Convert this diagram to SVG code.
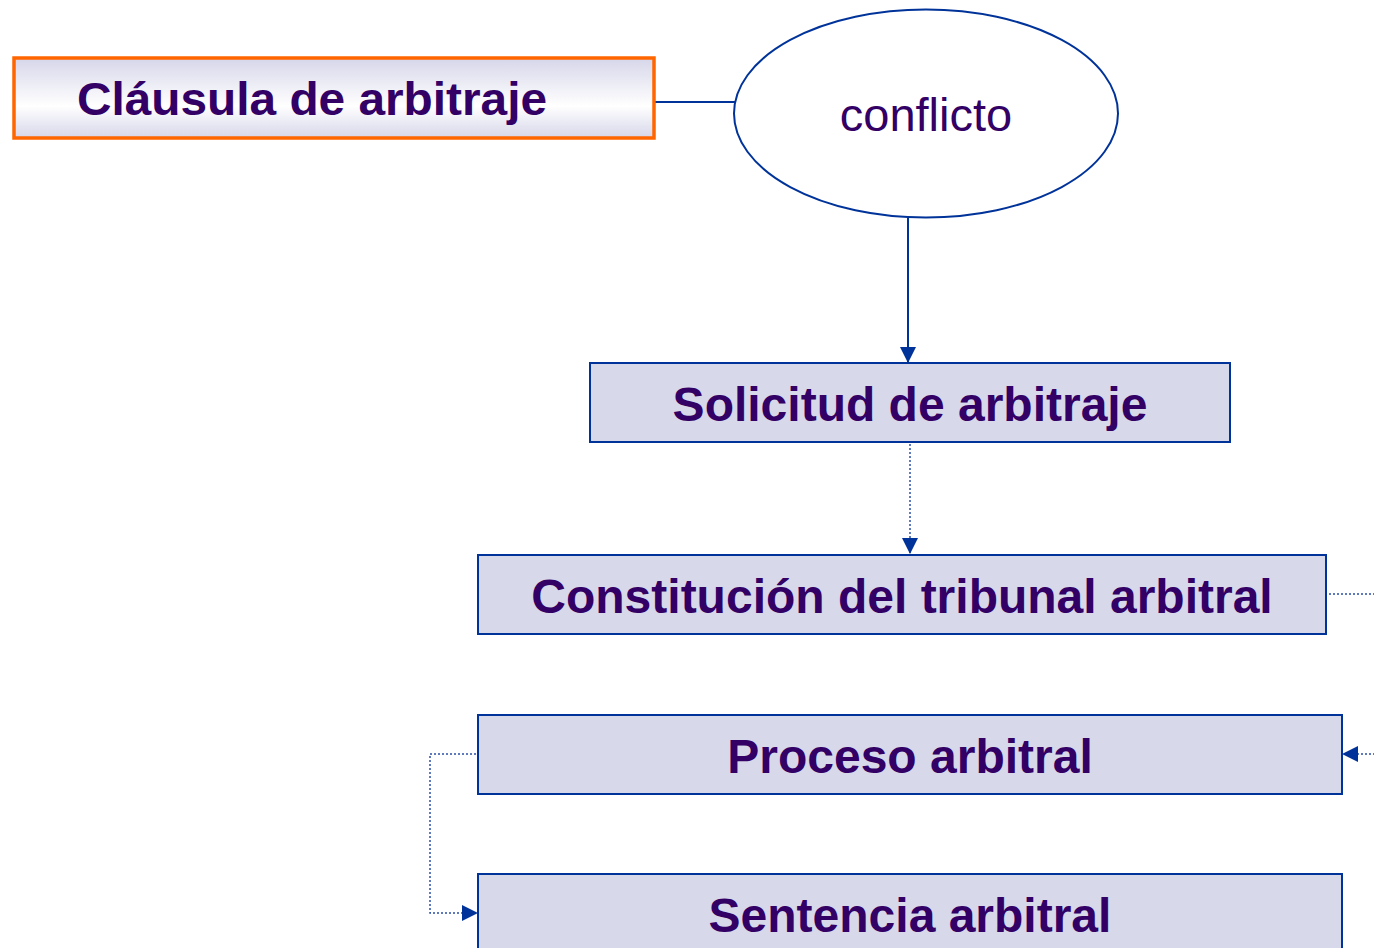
<svg xmlns="http://www.w3.org/2000/svg" width="1374" height="948" viewBox="0 0 1374 948">
<defs>
<linearGradient id="g" x1="0" y1="0" x2="0" y2="1">
<stop offset="0" stop-color="#D6D6EA"/>
<stop offset="0.6" stop-color="#FFFFFF"/>
<stop offset="1" stop-color="#D6D6EA"/>
</linearGradient>
<marker id="ah" markerWidth="16" markerHeight="16" refX="15" refY="8" orient="auto" markerUnits="userSpaceOnUse">
<path d="M0,0 L16,8 L0,16 Z" fill="#003399"/>
</marker>
</defs>
<style>
.box{fill:#D8D8EB;stroke:#003399;stroke-width:2}
.t{font-family:"Liberation Sans",Arial,sans-serif;font-weight:bold;font-size:48px;fill:#330066}
.solid{fill:none;stroke:#003399;stroke-width:2}
.dot{fill:none;stroke:#2A4FA8;stroke-width:1.5;stroke-dasharray:2 2}
</style>
<rect width="1374" height="948" fill="#FFFFFF"/>
<g id="connectors">
<path class="solid" d="M655,102 L735,102"/>
<path class="solid" d="M908,218 L908,362" marker-end="url(#ah)"/>
<path class="dot" d="M910,444 L910,553" marker-end="url(#ah)"/>
<path class="dot" d="M1329,594 L1400,594 L1400,754 L1343,754" marker-end="url(#ah)"/>
<path class="dot" d="M476,754 L430,754 L430,913 L477,913" marker-end="url(#ah)"/>
</g>
<g id="clausula">
<rect x="14" y="58" width="640" height="80" fill="url(#g)" stroke="#FF6600" stroke-width="3.5"/>
<text class="t" x="77" y="115" textLength="470" lengthAdjust="spacingAndGlyphs" style="font-size:46px">Cláusula de arbitraje</text>
</g>
<g id="conflicto">
<ellipse cx="926" cy="113.5" rx="192" ry="104" fill="#FFFFFF" stroke="#003399" stroke-width="2"/>
<text x="926" y="131" text-anchor="middle" font-family="Liberation Sans, Arial, sans-serif" font-size="47" fill="#330066">conflicto</text>
</g>
<g id="solicitud">
<rect class="box" x="590" y="363" width="640" height="79"/>
<text class="t" x="910" y="421" text-anchor="middle">Solicitud de arbitraje</text>
</g>
<g id="constitucion">
<rect class="box" x="478" y="555" width="848" height="79"/>
<text class="t" x="902" y="613" text-anchor="middle">Constitución del tribunal arbitral</text>
</g>
<g id="proceso">
<rect class="box" x="478" y="715" width="864" height="79"/>
<text class="t" x="910" y="773" text-anchor="middle">Proceso arbitral</text>
</g>
<g id="sentencia">
<rect class="box" x="478" y="874" width="864" height="90"/>
<text class="t" x="910" y="932" text-anchor="middle">Sentencia arbitral</text>
</g>
</svg>
